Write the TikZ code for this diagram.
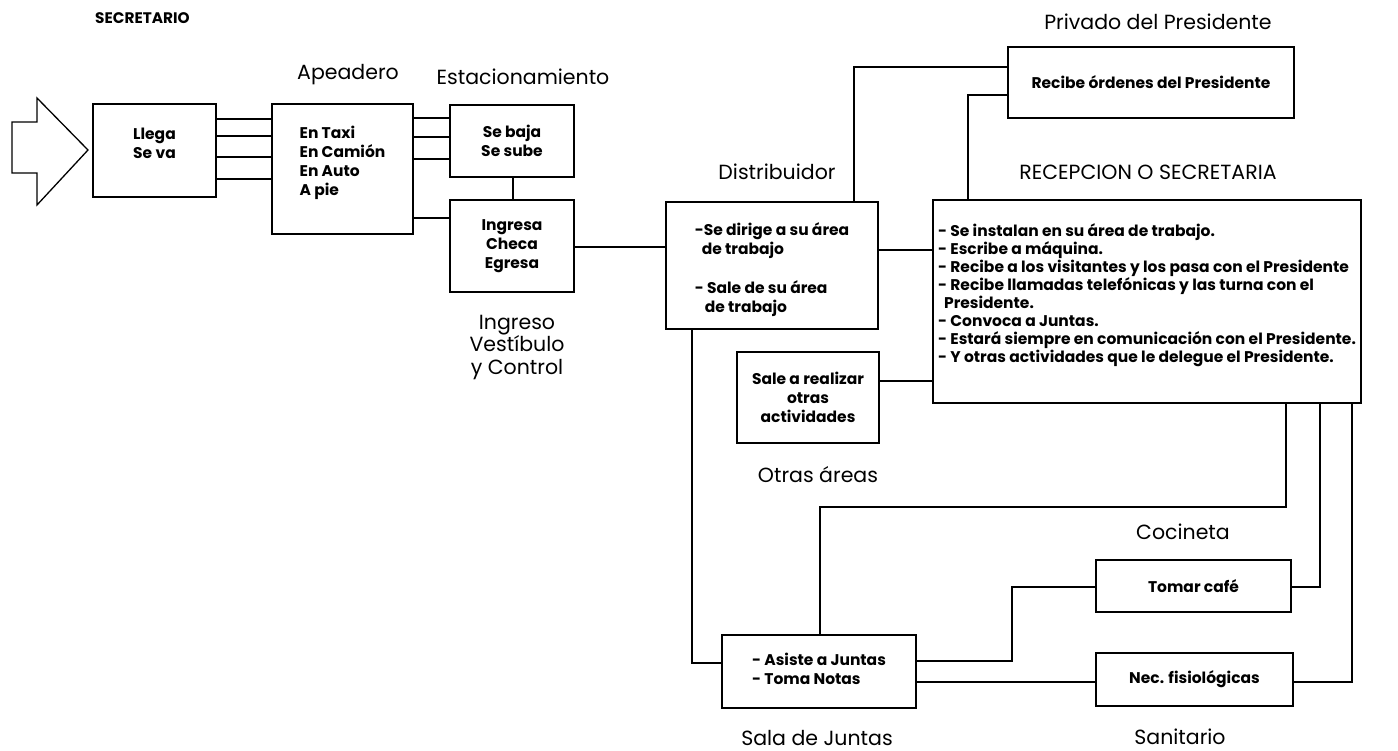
\documentclass[tikz,border=0pt]{standalone}
\usepackage{fontspec}
\setmainfont{Poppins}
\usetikzlibrary{calc}
\tikzset{
  box/.style={draw, line width=2.4pt, inner sep=0pt, align=center,
    font=\fontsize{15.5}{19}\selectfont\bfseries},
  lab/.style={inner sep=0pt, font=\fontsize{20.5}{22.5}\selectfont, align=center},
  conn/.style={line width=1.3pt},
}
\begin{document}
\begin{tikzpicture}[x=1pt,y=-1pt]
\useasboundingbox (0,0) rectangle (1398,750);
% big arrow
\draw[line width=1.3pt] (12,122) -- (37,122) -- (37,98) -- (88,150) -- (37,205) -- (37,173) -- (12,173) -- cycle;
\node[lab, anchor=west, font=\fontsize{15.3}{18}\selectfont\bfseries] (secr) at (95,18) {SECRETARIO};

% boxes
\node[box, minimum width=123pt, minimum height=93pt] (llega) at (154.5,150.5) {\raisebox{5pt}[\height][\depth]{\begin{tabular}{@{}c@{}}Llega\\Se va\end{tabular}}};
\node[box, minimum width=141pt, minimum height=130pt] (apea) at (342.5,169)
  {\raisebox{6pt}[\height][\depth]{\begin{tabular}{@{}l@{}}En Taxi\\En Camión\\En Auto\\A pie\end{tabular}}};
\node[box, minimum width=124pt, minimum height=72pt] (estac) at (512,141) {Se baja\\Se sube};
\node[box, minimum width=124pt, minimum height=92pt] (ingr) at (512,246) {Ingresa\\Checa\\Egresa};
\node[box, minimum width=212pt, minimum height=127pt] (distr) at (772,265.5)
  {\raisebox{-5pt}[\height][\depth]{\begin{tabular}{@{}l@{}}-Se dirige a su área\\\hspace*{7pt}de trabajo\\[20pt]- Sale de su área\\\hspace*{10pt}de trabajo\end{tabular}}};
\node[box, minimum width=286pt, minimum height=71pt] (priv) at (1151,82.5) {Recibe órdenes del Presidente};
\node[box, minimum width=428pt, minimum height=203pt, font=\fontsize{15.5}{17.7}\selectfont\bfseries] (recep) at (1147,301.5)
  {\raisebox{6pt}[\height][\depth]{\begin{tabular}{@{}l@{}}
  - Se instalan en su área de trabajo.\\
  - Escribe a máquina.\\
  - Recibe a los visitantes y los pasa con el Presidente\\
  - Recibe llamadas telefónicas y las turna con el\\
  \hspace*{6pt}Presidente.\\
  - Convoca a Juntas.\\
  - Estará siempre en comunicación con el Presidente.\\
  - Y otras actividades que le delegue el Presidente.
  \end{tabular}}};
\node[box, minimum width=142pt, minimum height=91pt] (otras) at (808,397.5) {Sale a realizar\\otras\\actividades};
\node[box, minimum width=194pt, minimum height=73pt] (sala) at (819,671.5)
  {\begin{tabular}{@{}l@{}}- Asiste a Juntas\\- Toma Notas\end{tabular}};
\node[box, minimum width=195pt, minimum height=52pt] (tomar) at (1193.5,586) {Tomar café};
\node[box, minimum width=197pt, minimum height=53pt] (nec) at (1194.5,679.5) {Nec. fisiológicas};

% labels
\node[lab] (lapea) at (348,75) {Apeadero};
\node[lab] (lestac) at (523,77) {Estacionamiento};
\node[lab] (lingr) at (517,347) {Ingreso\\Vestíbulo\\y Control};
\node[lab] (ldistr) at (777,172) {Distribuidor};
\node[lab] (lpriv) at (1158,22) {Privado del Presidente};
\node[lab] (lrecep) at (1148,172) {RECEPCION O SECRETARIA};
\node[lab] (lotras) at (818,475) {Otras áreas};
\node[lab] (lcoc) at (1183,532) {Cocineta};
\node[lab] (lsala) at (817,738) {Sala de Juntas};
\node[lab] (lsan) at (1180,737) {Sanitario};

% connectors
\foreach \yy in {119,136,157,179} \draw[conn] (llega.east |- {(0,\yy)}) -- (apea.west |- {(0,\yy)});
\foreach \yy in {118,137,159} \draw[conn] (apea.east |- {(0,\yy)}) -- (estac.west |- {(0,\yy)});
\draw[conn] (apea.east |- {(0,218)}) -- (ingr.west |- {(0,218)});
\draw[conn] (estac.south -| {(513,0)}) -- (ingr.north -| {(513,0)});
\draw[conn] (ingr.east |- {(0,247)}) -- (distr.west |- {(0,247)});
\draw[conn] (distr.north -| {(854,0)}) -- (854,67) -- (priv.west |- {(0,67)});
\draw[conn] (recep.north -| {(968,0)}) -- (968,95) -- (priv.west |- {(0,95)});
\draw[conn] (distr.east |- {(0,250)}) -- (recep.west |- {(0,250)});
\draw[conn] (otras.east |- {(0,381)}) -- (recep.west |- {(0,381)});
\draw[conn] (distr.south -| {(692,0)}) -- (692,663) -- (sala.west |- {(0,663)});
\draw[conn] (sala.north -| {(820,0)}) -- (820,507) -- (1286,507) -- (recep.south -| {(1286,0)});
\draw[conn] (sala.east |- {(0,661)}) -- (1012,661) -- (1012,587) -- (tomar.west |- {(0,587)});
\draw[conn] (tomar.east |- {(0,587)}) -- (1320,587) -- (recep.south -| {(1320,0)});
\draw[conn] (sala.east |- {(0,682)}) -- (nec.west |- {(0,682)});
\draw[conn] (nec.east |- {(0,682)}) -- (1352,682) -- (recep.south -| {(1352,0)});
\end{tikzpicture}
\end{document}
